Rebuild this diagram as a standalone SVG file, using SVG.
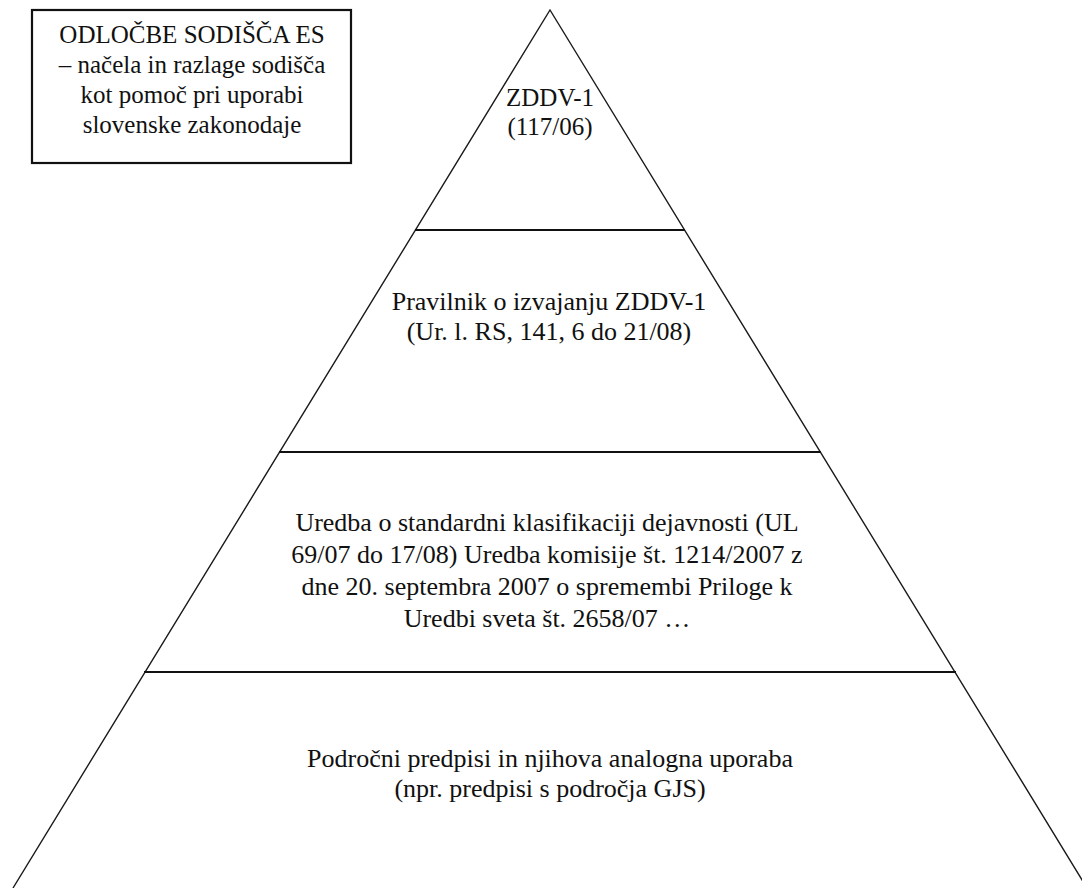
<svg xmlns="http://www.w3.org/2000/svg" width="1082" height="888" viewBox="0 0 1082 888">
<style>
.t{font-family:"Liberation Serif","Times New Roman",serif;font-size:25px;fill:#111;text-anchor:middle}
.b{font-size:26px}
.side{stroke:#1a1a1a;stroke-width:1.4;fill:none}
.div{stroke:#111;stroke-width:2.2;fill:none}
</style>
<rect width="1082" height="888" fill="#fff"/>
<g id="box">
<rect x="32" y="10" width="319" height="153" fill="#fff" stroke="#111" stroke-width="2.2"/>
<text class="t" x="192" y="43">ODLOČBE SODIŠČA ES</text>
<text class="t" x="192" y="73">– načela in razlage sodišča</text>
<text class="t" x="192" y="103">kot pomoč pri uporabi</text>
<text class="t" x="192" y="133">slovenske zakonodaje</text>
</g>
<g id="connectors">
<path class="side" d="M13,888 L550,10 L1087,888"/>
<line class="div" x1="415" y1="230" x2="685" y2="230"/>
<line class="div" x1="279" y1="452" x2="821" y2="452"/>
<line class="div" x1="144" y1="672" x2="956" y2="672"/>
</g>
<g id="level1">
<text class="t" x="550" y="106">ZDDV-1</text>
<text class="t" x="550" y="135">(117/06)</text>
</g>
<g id="level2">
<text class="t b" x="549" y="310">Pravilnik o izvajanju ZDDV-1</text>
<text class="t b" x="549" y="340">(Ur. l. RS, 141, 6 do 21/08)</text>
</g>
<g id="level3">
<text class="t b" x="547" y="531">Uredba o standardni klasifikaciji dejavnosti (UL</text>
<text class="t b" x="547" y="563">69/07 do 17/08) Uredba komisije št. 1214/2007 z</text>
<text class="t b" x="547" y="595">dne 20. septembra 2007 o spremembi Priloge k</text>
<text class="t b" x="547" y="627">Uredbi sveta št. 2658/07 …</text>
</g>
<g id="level4">
<text class="t b" x="550" y="767">Področni predpisi in njihova analogna uporaba</text>
<text class="t b" x="550" y="797">(npr. predpisi s področja GJS)</text>
</g>
</svg>
